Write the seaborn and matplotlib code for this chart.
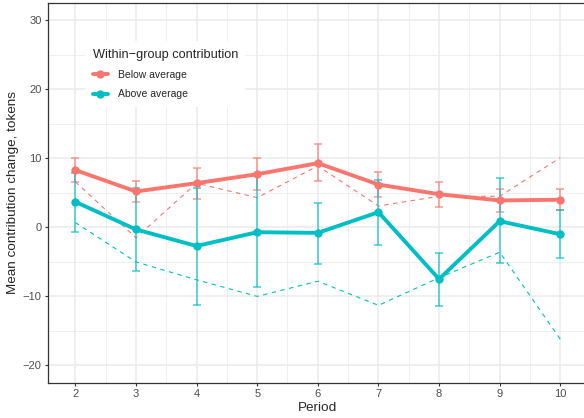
import pandas as pd
import matplotlib.pyplot as plt
from matplotlib.lines import Line2D
import seaborn as sns

# values
periods = [2, 3, 4, 5, 6, 7, 8, 9, 10]

below_mean = [8.3, 5.2, 6.4, 7.7, 9.3, 6.2, 4.8, 3.9, 4.0]
below_lo = [6.6, 3.7, 4.1, 5.4, 6.7, 4.4, 3.0, 2.2, 2.5]
below_hi = [10.0, 6.7, 8.6, 10.0, 12.1, 8.0, 6.6, 5.5, 5.6]
below_dash = [6.6, -1.5, 6.4, 4.3, 8.9, 3.1, 4.5, 4.5, 10.1]

above_mean = [3.7, -0.3, -2.7, -0.7, -0.8, 2.2, -7.5, 0.9, -1.0]
above_lo = [-0.6, -6.3, -11.3, -8.6, -5.3, -2.5, -11.4, -5.2, -4.4]
above_hi = [7.9, 5.7, 5.7, 7.4, 3.6, 6.9, -3.7, 7.1, 2.5]
above_dash = [0.7, -5.0, -7.6, -10.0, -7.8, -11.3, -7.3, -3.6, -16.2]

groups = ['Below average', 'Above average']
colors = {'Below average': '#F8766D', 'Above average': '#00BFC4'}

df = pd.concat([
    pd.DataFrame({'period': periods, 'mean': below_mean, 'lo': below_lo,
                  'hi': below_hi, 'dash': below_dash, 'group': 'Below average'}),
    pd.DataFrame({'period': periods, 'mean': above_mean, 'lo': above_lo,
                  'hi': above_hi, 'dash': above_dash, 'group': 'Above average'}),
])

sns.set_style('white')
plt.rcParams['font.family'] = ['Liberation Sans', 'DejaVu Sans']

fig = plt.figure(figsize=(5.84, 4.18), dpi=100)
ax = fig.add_axes([0.0817, 0.0845, 0.925, 0.9083])

# dashed reference lines
for g in groups:
    sub = df[df['group'] == g]
    sns.lineplot(data=sub, x='period', y='dash', color=colors[g], lw=0.8,
                 ax=ax, legend=False, zorder=3, dashes=False)
for l in ax.lines:
    l.set_dashes((4, 4))

# error bars
for g in groups:
    sub = df[df['group'] == g]
    ax.errorbar(sub['period'], sub['mean'],
                yerr=[sub['mean'] - sub['lo'], sub['hi'] - sub['mean']],
                fmt='none', ecolor=colors[g], elinewidth=1.1, capsize=3,
                capthick=1.1, alpha=0.75, zorder=4)

# solid mean lines with points
sns.lineplot(data=df, x='period', y='mean', hue='group', palette=colors,
             hue_order=groups, lw=2.8, marker='o', markersize=6,
             markeredgewidth=0, ax=ax, legend=False, zorder=5)

ax.set_xlim(1.545, 10.455)
ax.set_ylim(-22.5, 32.5)
ax.set_xticks(periods)
ax.set_yticks([-20, -10, 0, 10, 20, 30])
ax.set_yticklabels(['\u221220', '\u221210', '0', '10', '20', '30'])
ax.set_xticks([p + 0.5 for p in periods[:-1]], minor=True)
ax.set_yticks([-15, -5, 5, 15, 25], minor=True)

ax.grid(which='major', color='#EBEBEB', lw=1.1, zorder=0)
ax.grid(which='minor', color='#EBEBEB', lw=0.55, zorder=0)
ax.set_axisbelow(True)
for s in ax.spines.values():
    s.set_color('#333333')
    s.set_linewidth(0.9)

ax.tick_params(which='major', direction='out', length=2.5, width=0.8,
               bottom=True, left=True, color='#333333', labelcolor='#4D4D4D',
               labelsize=8, pad=2)
ax.tick_params(which='minor', length=0)

ax.set_xlabel('Period', fontsize=9.7, labelpad=2)
ax.set_ylabel('Mean contribution change, tokens', fontsize=9.7, labelpad=2.5)

handles = [Line2D([0], [0], color=colors[g], lw=2.8, marker='o', markersize=6,
                  markeredgewidth=0) for g in groups]
leg = ax.legend(handles, groups, title='Within\u2212group contribution',
                loc='upper left', bbox_to_anchor=(0.06, 0.913),
                frameon=True, fontsize=7.5, title_fontsize=9.2,
                handlelength=1.45, handletextpad=0.95, labelspacing=0.9,
                borderpad=0.7, alignment='left')
leg.get_frame().set_edgecolor('none')
leg.get_frame().set_facecolor('white')
leg.get_frame().set_alpha(1)
leg.get_frame().set_boxstyle('square', pad=0)

fig.savefig('out.png', dpi=100)
